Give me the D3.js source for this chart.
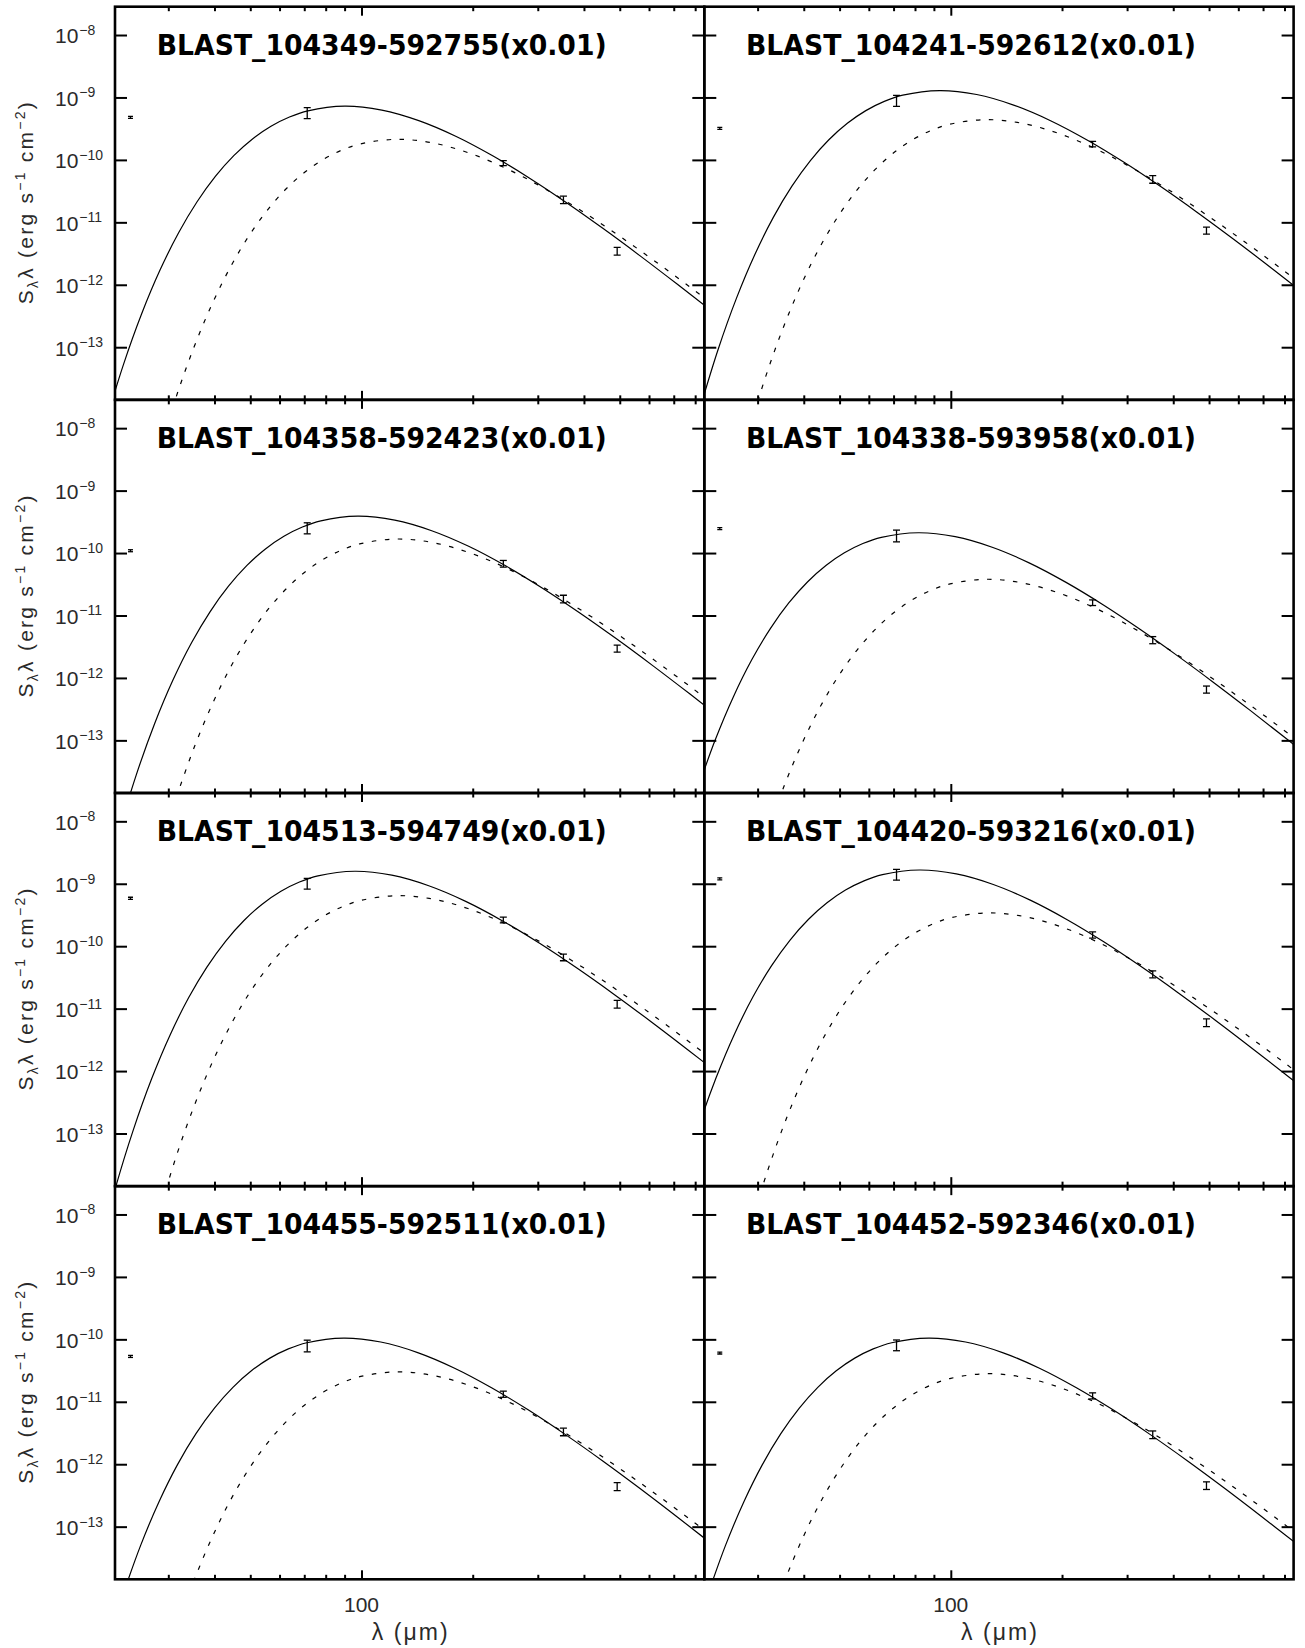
<!DOCTYPE html>
<html>
<head>
<meta charset="utf-8">
<script src="https://cdn.jsdelivr.net/npm/d3@7"></script>
<style>
  html, body { margin: 0; padding: 0; background: #fff; }
  svg { display: block; }
  text { white-space: pre; }
</style>
</head>
<body>
<svg id="chart" width="1305" height="1648"></svg>
<script>
// Source names, row by row (left column, right column)
const sourceNames = [
  "BLAST_104349-592755(x0.01)", "BLAST_104241-592612(x0.01)",
  "BLAST_104358-592423(x0.01)", "BLAST_104338-593958(x0.01)",
  "BLAST_104513-594749(x0.01)", "BLAST_104420-593216(x0.01)",
  "BLAST_104455-592511(x0.01)", "BLAST_104452-592346(x0.01)"
];

// Photometry: [wavelength (um), lambda*S_lambda (erg s^-1 cm^-2), 1-sigma error]
const phot1 = [[23.7, 4.81e-10, 1.8e-11], [71.3, 5.71e-10, 1.14e-10], [242, 8.93e-11, 8.2e-12], [352, 2.31e-11, 3.1e-12], [492, 3.48e-12, 4.9e-13]];
const phot2 = [[23.7, 3.20e-10, 1.2e-11], [71.3, 9.0e-10, 1.8e-10], [242, 1.80e-10, 1.85e-11], [352, 4.92e-11, 6.9e-12], [492, 7.43e-12, 9.7e-13]];
const phot3 = [[23.7, 1.09e-10, 4e-12], [71.3, 2.54e-10, 5.1e-11], [242, 6.78e-11, 8.3e-12], [352, 1.85e-11, 2.6e-12], [492, 2.97e-12, 3.9e-13]];
const phot4 = [[23.7, 2.46e-10, 9e-12], [71.3, 1.92e-10, 4.1e-11], [242, 1.61e-11, 1.66e-12], [352, 4.06e-12, 5.3e-13], [492, 6.56e-13, 8.5e-14]];
const phot5 = [[23.7, 5.86e-10, 2.2e-11], [71.3, 1.02e-9, 2.0e-10], [242, 2.65e-10, 2.8e-11], [352, 6.67e-11, 8.2e-12], [492, 1.19e-11, 1.7e-12]];
const phot6 = [[23.7, 1.20e-9, 4.4e-11], [71.3, 1.42e-9, 2.8e-10], [242, 1.52e-10, 1.7e-11], [352, 3.57e-11, 4.6e-12], [492, 6.0e-12, 8.4e-13]];
const phot7 = [[23.7, 5.33e-11, 2e-12], [71.3, 8.0e-11, 1.7e-11], [242, 1.33e-11, 1.5e-12], [352, 3.32e-12, 4.6e-13], [492, 4.43e-13, 6.5e-14]];
const phot8 = [[23.7, 6.04e-11, 2.2e-12], [71.3, 8.17e-11, 1.6e-11], [242, 1.25e-11, 1.4e-12], [352, 2.99e-12, 4.2e-13], [492, 4.58e-13, 6.4e-14]];

// Fitted SED curves, sampled as [log10 wavelength (um), log10 lambda*S_lambda]
const fitSolid1 = [[1.305,-14.252],[1.355,-13.290],[1.405,-12.464],[1.455,-11.761],[1.505,-11.167],[1.555,-10.671],[1.605,-10.261],[1.655,-9.928],[1.705,-9.664],[1.755,-9.461],[1.805,-9.313],[1.855,-9.214],[1.955,-9.140],[2.055,-9.203],[2.155,-9.372],[2.255,-9.622],[2.355,-9.935],[2.455,-10.293],[2.555,-10.686],[2.655,-11.104],[2.755,-11.541],[2.855,-11.993],[2.955,-12.455]];
const fitDashed1 = [[1.447,-14.782],[1.497,-13.820],[1.547,-12.994],[1.597,-12.291],[1.647,-11.697],[1.697,-11.201],[1.747,-10.791],[1.797,-10.458],[1.847,-10.194],[1.897,-9.991],[1.947,-9.843],[1.997,-9.744],[2.097,-9.670],[2.197,-9.733],[2.297,-9.902],[2.397,-10.152],[2.497,-10.465],[2.597,-10.823],[2.697,-11.216],[2.797,-11.634],[2.897,-12.071],[2.997,-12.523]];

const fitSolid2 = [[1.320,-14.002],[1.370,-13.040],[1.420,-12.214],[1.470,-11.511],[1.520,-10.917],[1.570,-10.421],[1.620,-10.011],[1.670,-9.678],[1.720,-9.414],[1.770,-9.211],[1.820,-9.063],[1.870,-8.964],[1.970,-8.890],[2.070,-8.953],[2.170,-9.122],[2.270,-9.372],[2.370,-9.685],[2.470,-10.043],[2.570,-10.436],[2.670,-10.854],[2.770,-11.291],[2.870,-11.743],[2.970,-12.205]];
const fitDashed2 = [[1.447,-14.467],[1.497,-13.505],[1.547,-12.679],[1.597,-11.976],[1.647,-11.382],[1.697,-10.886],[1.747,-10.476],[1.797,-10.143],[1.847,-9.879],[1.897,-9.676],[1.947,-9.528],[1.997,-9.429],[2.097,-9.355],[2.197,-9.418],[2.297,-9.587],[2.397,-9.837],[2.497,-10.150],[2.597,-10.508],[2.697,-10.901],[2.797,-11.319],[2.897,-11.756],[2.997,-12.208]];

const fitSolid3 = [[1.340,-14.522],[1.390,-13.560],[1.440,-12.734],[1.490,-12.031],[1.540,-11.437],[1.590,-10.941],[1.640,-10.531],[1.690,-10.198],[1.740,-9.934],[1.790,-9.731],[1.840,-9.583],[1.890,-9.484],[1.990,-9.410],[2.090,-9.473],[2.190,-9.642],[2.290,-9.892],[2.390,-10.205],[2.490,-10.563],[2.590,-10.956],[2.690,-11.374],[2.790,-11.811],[2.890,-12.263],[2.990,-12.725]];
const fitDashed3 = [[1.498,-13.925],[1.548,-13.099],[1.598,-12.396],[1.648,-11.802],[1.698,-11.306],[1.748,-10.896],[1.798,-10.563],[1.848,-10.299],[1.898,-10.096],[1.948,-9.948],[1.998,-9.849],[2.098,-9.775],[2.198,-9.838],[2.298,-10.007],[2.398,-10.257],[2.498,-10.570],[2.598,-10.928],[2.698,-11.321],[2.798,-11.739],[2.898,-12.176],[2.998,-12.628]];

const fitSolid4 = [[1.312,-13.825],[1.362,-12.999],[1.412,-12.296],[1.462,-11.702],[1.512,-11.206],[1.562,-10.796],[1.612,-10.463],[1.662,-10.199],[1.712,-9.996],[1.762,-9.848],[1.812,-9.749],[1.912,-9.675],[2.012,-9.738],[2.112,-9.907],[2.212,-10.157],[2.312,-10.470],[2.412,-10.828],[2.512,-11.221],[2.612,-11.639],[2.712,-12.076],[2.812,-12.528],[2.912,-12.990],[3.012,-13.461]];
const fitDashed4 = [[1.498,-14.570],[1.548,-13.744],[1.598,-13.041],[1.648,-12.447],[1.698,-11.951],[1.748,-11.541],[1.798,-11.208],[1.848,-10.944],[1.898,-10.741],[1.948,-10.593],[1.998,-10.494],[2.098,-10.420],[2.198,-10.483],[2.298,-10.652],[2.398,-10.902],[2.498,-11.215],[2.598,-11.573],[2.698,-11.966],[2.798,-12.384],[2.898,-12.821],[2.998,-13.273]];

const fitSolid5 = [[1.282,-15.029],[1.332,-13.912],[1.382,-12.950],[1.432,-12.124],[1.482,-11.421],[1.532,-10.827],[1.582,-10.331],[1.632,-9.921],[1.682,-9.588],[1.732,-9.324],[1.782,-9.121],[1.832,-8.973],[1.882,-8.874],[1.982,-8.800],[2.082,-8.863],[2.182,-9.032],[2.282,-9.282],[2.382,-9.595],[2.482,-9.953],[2.582,-10.346],[2.682,-10.764],[2.782,-11.201],[2.882,-11.653],[2.982,-12.115]];
const fitDashed5 = [[1.450,-14.302],[1.500,-13.340],[1.550,-12.514],[1.600,-11.811],[1.650,-11.217],[1.700,-10.721],[1.750,-10.311],[1.800,-9.978],[1.850,-9.714],[1.900,-9.511],[1.950,-9.363],[2.000,-9.264],[2.100,-9.190],[2.200,-9.253],[2.300,-9.422],[2.400,-9.672],[2.500,-9.985],[2.600,-10.343],[2.700,-10.736],[2.800,-11.154],[2.900,-11.591],[3.000,-12.043]];

const fitSolid6 = [[1.265,-13.892],[1.315,-12.930],[1.365,-12.104],[1.415,-11.401],[1.465,-10.807],[1.515,-10.311],[1.565,-9.901],[1.615,-9.568],[1.665,-9.304],[1.715,-9.101],[1.765,-8.953],[1.815,-8.854],[1.915,-8.780],[2.015,-8.843],[2.115,-9.012],[2.215,-9.262],[2.315,-9.575],[2.415,-9.933],[2.515,-10.326],[2.615,-10.744],[2.715,-11.181],[2.815,-11.633],[2.915,-12.095],[3.015,-12.566]];
const fitDashed6 = [[1.453,-14.579],[1.503,-13.617],[1.553,-12.791],[1.603,-12.088],[1.653,-11.494],[1.703,-10.998],[1.753,-10.588],[1.803,-10.255],[1.853,-9.991],[1.903,-9.788],[1.953,-9.640],[2.003,-9.541],[2.103,-9.467],[2.203,-9.530],[2.303,-9.699],[2.403,-9.949],[2.503,-10.262],[2.603,-10.620],[2.703,-11.013],[2.803,-11.431],[2.903,-11.868],[3.003,-12.320]];

const fitSolid7 = [[1.352,-14.130],[1.402,-13.304],[1.452,-12.601],[1.502,-12.007],[1.552,-11.511],[1.602,-11.101],[1.652,-10.768],[1.702,-10.504],[1.752,-10.301],[1.802,-10.153],[1.852,-10.054],[1.952,-9.980],[2.052,-10.043],[2.152,-10.212],[2.252,-10.462],[2.352,-10.775],[2.452,-11.133],[2.552,-11.526],[2.652,-11.944],[2.752,-12.381],[2.852,-12.833],[2.952,-13.295]];
const fitDashed7 = [[1.498,-14.670],[1.548,-13.844],[1.598,-13.141],[1.648,-12.547],[1.698,-12.051],[1.748,-11.641],[1.798,-11.308],[1.848,-11.044],[1.898,-10.841],[1.948,-10.693],[1.998,-10.594],[2.098,-10.520],[2.198,-10.583],[2.298,-10.752],[2.398,-11.002],[2.498,-11.315],[2.598,-11.673],[2.698,-12.066],[2.798,-12.484],[2.898,-12.921],[2.998,-13.373]];

const fitSolid8 = [[1.340,-14.130],[1.390,-13.304],[1.440,-12.601],[1.490,-12.007],[1.540,-11.511],[1.590,-11.101],[1.640,-10.768],[1.690,-10.504],[1.740,-10.301],[1.790,-10.153],[1.840,-10.054],[1.940,-9.980],[2.040,-10.043],[2.140,-10.212],[2.240,-10.462],[2.340,-10.775],[2.440,-11.133],[2.540,-11.526],[2.640,-11.944],[2.740,-12.381],[2.840,-12.833],[2.940,-13.295]];
const fitDashed8 = [[1.500,-14.700],[1.550,-13.874],[1.600,-13.171],[1.650,-12.577],[1.700,-12.081],[1.750,-11.671],[1.800,-11.338],[1.850,-11.074],[1.900,-10.871],[1.950,-10.723],[2.000,-10.624],[2.100,-10.550],[2.200,-10.613],[2.300,-10.782],[2.400,-11.032],[2.500,-11.345],[2.600,-11.703],[2.700,-12.096],[2.800,-12.514],[2.900,-12.951],[3.000,-13.403]];

// Axis ranges and ticks
const xDomain = [21.52, 846.8];
const yDomain = [Math.pow(10, -13.843), Math.pow(10, -7.5465)];
const yTickExponents = [-8, -9, -10, -11, -12, -13];
const xMajorTicks = [100];
const xMinorTicks = [30, 40, 50, 60, 70, 80, 90, 200, 300, 400, 500, 600, 700, 800];

const solidFits = [fitSolid1, fitSolid2, fitSolid3, fitSolid4, fitSolid5, fitSolid6, fitSolid7, fitSolid8];
const dashedFits = [fitDashed1, fitDashed2, fitDashed3, fitDashed4, fitDashed5, fitDashed6, fitDashed7, fitDashed8];
const photometry = [phot1, phot2, phot3, phot4, phot5, phot6, phot7, phot8];

// Layout
const panelW = 589.3, panelH = 393.15, gridLeft = 115, gridTop = 6.7;
const labelFont = "'Liberation Sans', Arial, Helvetica, sans-serif";
const titleFont = "'DejaVu Sans', 'Liberation Sans', sans-serif";
const ink = "#000";
const labelInk = "#2a2a2a";

const svg = d3.select("#chart");
const defs = svg.append("defs");

sourceNames.forEach((name, i) => {
  const col = i % 2, row = Math.floor(i / 2);
  const x0 = gridLeft + col * panelW, y0 = gridTop + row * panelH;
  const x = d3.scaleLog().domain(xDomain).range([x0, x0 + panelW]);
  const y = d3.scaleLog().domain(yDomain).range([y0 + panelH, y0]);

  const clipId = "panel-clip-" + i;
  defs.append("clipPath").attr("id", clipId)
    .append("rect").attr("x", x0).attr("y", y0).attr("width", panelW).attr("height", panelH);

  const g = svg.append("g").attr("class", "panel");
  const plot = g.append("g").attr("clip-path", `url(#${clipId})`);

  const line = d3.line()
    .x(d => x(Math.pow(10, d[0])))
    .y(d => y(Math.pow(10, d[1])))
    .curve(d3.curveCatmullRom.alpha(0.5));

  plot.append("path").attr("d", line(solidFits[i]))
    .attr("fill", "none").attr("stroke", ink).attr("stroke-width", 1.2);
  plot.append("path").attr("d", line(dashedFits[i]))
    .attr("fill", "none").attr("stroke", ink).attr("stroke-width", 1.2)
    .attr("stroke-dasharray", "4.5,8.5");

  // error bars
  const bars = plot.selectAll("g.err").data(photometry[i]).join("g").attr("class", "err")
    .attr("stroke", ink).attr("stroke-width", 1.3);
  bars.each(function (d) {
    const gx = x(d[0]);
    const hi = y(d[1] + d[2]), lo = y(d[1] - d[2]);
    const cap = d[0] < 30 ? 2.5 : 3.5;
    const sel = d3.select(this);
    sel.append("line").attr("x1", gx).attr("x2", gx).attr("y1", hi).attr("y2", lo);
    sel.append("line").attr("x1", gx - cap).attr("x2", gx + cap).attr("y1", hi).attr("y2", hi);
    sel.append("line").attr("x1", gx - cap).attr("x2", gx + cap).attr("y1", lo).attr("y2", lo);
  });

  // ticks on all four sides, pointing inward
  const styleAxis = (sel) => {
    sel.select(".domain").remove();
    sel.selectAll(".tick line").attr("stroke", ink).attr("stroke-width", 2);
    sel.selectAll(".tick text").remove();
  };
  g.append("g").attr("transform", `translate(${x0},0)`)
    .call(d3.axisRight(y).tickValues(yTickExponents.map(e => Math.pow(10, e))).tickSize(12).tickSizeOuter(0).tickFormat(""))
    .call(styleAxis);
  g.append("g").attr("transform", `translate(${x0 + panelW},0)`)
    .call(d3.axisLeft(y).tickValues(yTickExponents.map(e => Math.pow(10, e))).tickSize(12).tickSizeOuter(0).tickFormat(""))
    .call(styleAxis);
  [[xMinorTicks, 4.5], [xMajorTicks, 9]].forEach(([vals, len]) => {
    g.append("g").attr("transform", `translate(0,${y0})`)
      .call(d3.axisBottom(x).tickValues(vals).tickSize(len).tickSizeOuter(0).tickFormat(""))
      .call(styleAxis);
    g.append("g").attr("transform", `translate(0,${y0 + panelH})`)
      .call(d3.axisTop(x).tickValues(vals).tickSize(len).tickSizeOuter(0).tickFormat(""))
      .call(styleAxis);
  });

  // frame
  g.append("rect").attr("x", x0).attr("y", y0).attr("width", panelW).attr("height", panelH)
    .attr("fill", "none").attr("stroke", ink).attr("stroke-width", 2.6);

  // source name
  g.append("text")
    .attr("x", x0 + 41.7).attr("y", y0 + 48.3)
    .attr("font-family", titleFont).attr("font-weight", "bold").attr("font-size", 27.5)
    .attr("textLength", 450).attr("lengthAdjust", "spacingAndGlyphs")
    .attr("fill", ink)
    .text(name);

  if (col === 0) {
    // y tick labels 10^n
    yTickExponents.forEach(e => {
      const ty = y(Math.pow(10, e));
      const t = g.append("text").attr("x", 55).attr("y", ty + 8.3)
        .attr("font-family", labelFont).attr("font-size", 21).attr("fill", labelInk);
      t.append("tspan").text("10");
      t.append("tspan").attr("dy", -8.3).attr("dx", 1).attr("font-size", 14).text("\u2212" + Math.abs(e));
    });
    // y axis title
    const yt = g.append("text")
      .attr("transform", `translate(33,${y0 + panelH / 2}) rotate(-90)`)
      .attr("text-anchor", "middle")
      .attr("font-family", labelFont).attr("font-size", 21).attr("fill", labelInk)
      .attr("textLength", 202).attr("lengthAdjust", "spacing");
    yt.append("tspan").text("S");
    yt.append("tspan").attr("dy", 5).attr("font-size", 14).text("\u03bb");
    yt.append("tspan").attr("dy", -5).text("\u03bb (erg s");
    yt.append("tspan").attr("dy", -8).attr("font-size", 14).text("\u22121");
    yt.append("tspan").attr("dy", 8).text(" cm");
    yt.append("tspan").attr("dy", -8).attr("font-size", 14).text("\u22122");
    yt.append("tspan").attr("dy", 8).text(")");
  }

  if (row === 3) {
    xMajorTicks.forEach(v => {
      g.append("text").attr("x", x(v)).attr("y", y0 + panelH + 32.7)
        .attr("text-anchor", "middle")
        .attr("font-family", labelFont).attr("font-size", 21).attr("fill", labelInk)
        .text(d3.format("d")(v));
    });
    g.append("text").attr("x", x0 + panelW / 2).attr("y", y0 + panelH + 61)
      .attr("text-anchor", "middle")
      .attr("font-family", labelFont).attr("font-size", 23).attr("fill", labelInk)
      .attr("textLength", 76).attr("lengthAdjust", "spacing")
      .text("\u03bb (\u03bcm)");
  }
});
</script>
</body>
</html>
